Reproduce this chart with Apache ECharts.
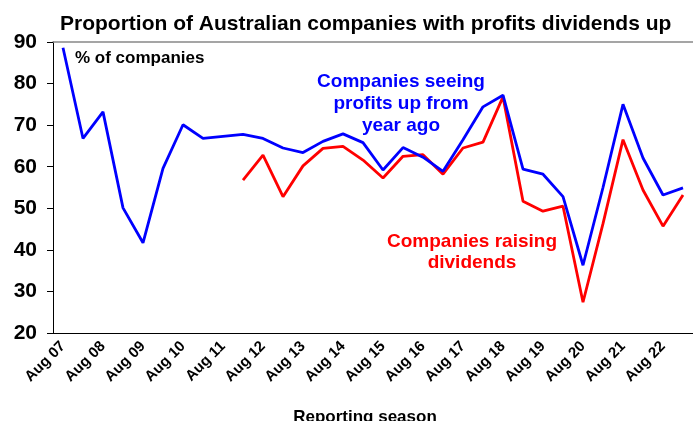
<!DOCTYPE html>
<html><head><meta charset="utf-8">
<script src="https://cdn.jsdelivr.net/npm/echarts@6/dist/echarts.min.js"></script>
<style>html,body{margin:0;padding:0;background:#fff}#c{width:693px;height:421px}</style>
</head><body><div id="c"></div>
<script>
var categories = [];
var yrs = ['07','08','09','10','11','12','13','14','15','16','17','18','19','20','21','22','23'];
for (var i = 0; i < yrs.length; i++) {
  if (i > 0) categories.push('Feb ' + yrs[i]);
  if (i < yrs.length - 1) categories.push('Aug ' + yrs[i]);
}
var profitsUp = [88.6, 66.8, 73.2, 50.1, 41.7, 59.6, 70.1, 66.8, 67.3, 67.8, 66.8, 64.5, 63.4, 66.1, 67.9, 65.8,
  59.2, 64.6, 62.3, 58.9, 66.5, 74.4, 77.2, 59.4, 58.2, 52.8, 36.3, 55.0, 75.0, 62.1, 53.2, 54.9];
var dividendsUp = [null, null, null, null, null, null, null, null, null, 56.8, 62.8, 52.8, 60.2, 64.4, 64.9, 61.6,
  57.3, 62.5, 62.9, 58.2, 64.5, 65.9, 76.8, 51.7, 49.3, 50.5, 27.4, 46.3, 66.5, 54.4, 45.7, 53.2];
var yTicks = [20, 30, 40, 50, 60, 70, 80, 90];

var F = 'Arial, "Liberation Sans", sans-serif';
var chart = echarts.init(document.getElementById('c'));
chart.setOption({
  animation: false,
  title: {
    text: 'Proportion of Australian companies with profits dividends up',
    left: 55, top: 9,
    textStyle: { fontFamily: F, fontWeight: 'bold', fontSize: 21, color: '#000' }
  },
  grid: { left: 53, right: 0, top: 42, bottom: 88, containLabel: false, outerBoundsMode: 'none' },
  xAxis: [{
    type: 'category', data: categories, boundaryGap: true,
    name: 'Reporting season', nameLocation: 'middle', nameGap: 76,
    nameTextStyle: { fontFamily: F, fontWeight: 'bold', fontSize: 17, color: '#000', padding: [0, 16, 0, 0] },
    axisLine: { lineStyle: { color: '#000', width: 1 } },
    axisTick: { interval: 0, length: 5, lineStyle: { color: '#000' } },
    axisLabel: { interval: 1, rotate: 45, margin: 11, fontFamily: F, fontWeight: 'bold', fontSize: 15, color: '#000' },
    splitLine: { show: false }
  }, {
    type: 'category', data: categories, position: 'top',
    axisLine: { lineStyle: { color: '#888', width: 1.5 } },
    axisTick: { show: false }, axisLabel: { show: false }
  }],
  yAxis: {
    type: 'value', min: yTicks[0], max: yTicks[yTicks.length - 1], interval: 10,
    axisLine: { show: true, lineStyle: { color: '#000', width: 1 } },
    axisTick: { show: true, length: 6, lineStyle: { color: '#000' } },
    axisLabel: { margin: 16, fontFamily: F, fontWeight: 'bold', fontSize: 21, color: '#000' },
    splitLine: { show: false }
  },
  series: [{
    type: 'line', name: 'Profits up', data: profitsUp, symbol: 'none',
    lineStyle: { color: '#0000FF', width: 2.8 }, z: 3
  }, {
    type: 'line', name: 'Dividends up', data: dividendsUp, symbol: 'none',
    lineStyle: { color: '#FF0000', width: 2.8 }, z: 2
  }],
  graphic: [
    { type: 'text', left: 75, top: 50, style: { text: '% of companies', font: 'bold 17px ' + F, fill: '#000' } },
    { type: 'text', x: 401, y: 71, style: { text: 'Companies seeing\nprofits up from\nyear ago', font: 'bold 19px ' + F, fill: '#0000FF', textAlign: 'center', lineHeight: 22 } },
    { type: 'text', x: 472, y: 231, style: { text: 'Companies raising\ndividends', font: 'bold 19px ' + F, fill: '#FF0000', textAlign: 'center', lineHeight: 21 } }
  ]
});
</script></body></html>
